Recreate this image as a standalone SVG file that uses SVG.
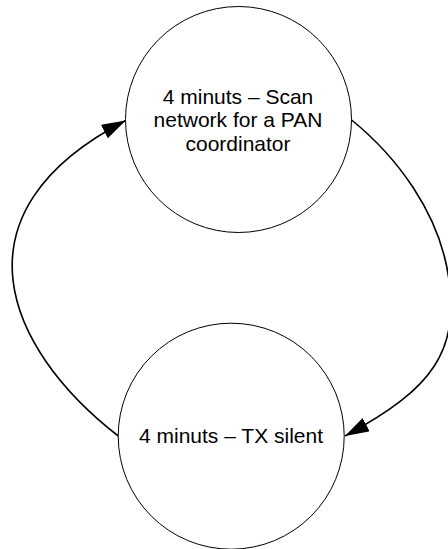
<svg xmlns="http://www.w3.org/2000/svg" width="448" height="549" viewBox="0 0 448 549">
  <style>
    .state { fill: #ffffff; stroke: #000000; stroke-width: 1; }
    .label { font-family: "Liberation Sans", Arial, sans-serif; font-size: 21px; fill: #000000; text-anchor: middle; }
    .edge { fill: none; stroke: #000000; stroke-width: 1.6; marker-end: url(#arrow); }
  </style>
  <defs>
    <marker id="arrow" markerUnits="userSpaceOnUse" markerWidth="26" markerHeight="18" refX="24" refY="7.5" orient="auto">
      <path d="M0,0 L24,7.5 L0,15 Z" fill="#000000"/>
    </marker>
  </defs>
  <rect width="448" height="549" fill="#ffffff"/>

  <g id="connectors">
    <!-- scan -> silent, bowing out to the right -->
    <path class="edge" d="M351,119.5 C395,155 440,212 449,280 C458,350 435,388 345,436"/>
    <!-- silent -> scan, bowing out to the left -->
    <path class="edge" d="M118.3,436 C5.4,348.4 -52.1,212.6 125.7,120.5"/>
  </g>

  <g id="scan">
    <circle class="state" cx="238.5" cy="119.5" r="113"/>
    <text class="label" x="238" y="103.5">4 minuts – Scan</text>
    <text class="label" x="238" y="127">network for a PAN</text>
    <text class="label" x="238" y="150.5">coordinator</text>
  </g>

  <g id="silent">
    <circle class="state" cx="231.2" cy="436.2" r="113"/>
    <text class="label" x="231" y="443.3">4 minuts – TX silent</text>
  </g>
</svg>
